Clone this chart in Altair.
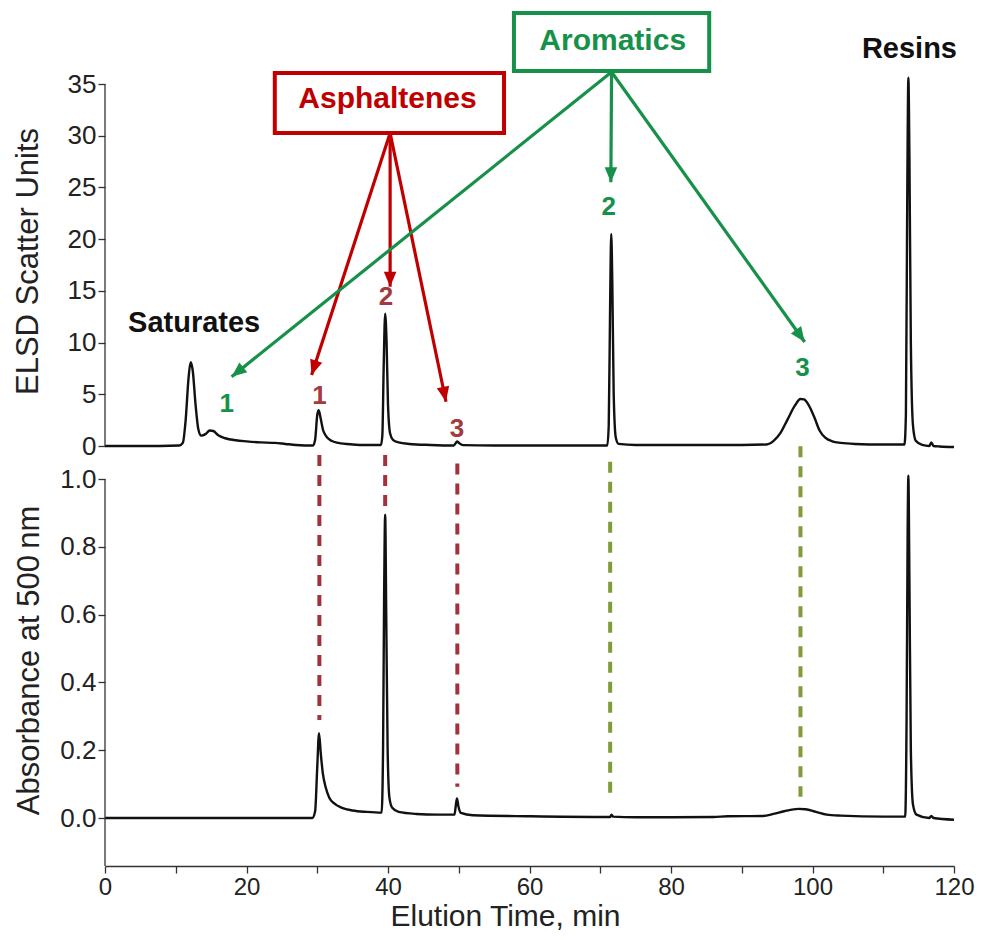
import altair as alt
import pandas as pd
import math

# ---------------- data ----------------
elsd_time = [0, 5, 10.5, 11.0, 11.4, 11.8, 12.1, 12.4, 12.8, 13.2, 13.6, 14.2, 14.8, 15.3, 16.0, 17.0,
             18.5, 20.0, 22.0, 24.0, 25.5, 27.0, 29.4, 29.7, 30.0, 30.2, 30.5, 30.8, 31.3, 32.0, 33.0,
             35.0, 37.0, 39.0, 39.2, 39.4, 39.6, 39.8, 40.0, 40.3, 40.7, 41.5, 43.0, 46.0, 49.3, 49.6,
             49.8, 50.1, 50.6, 55.0, 60.0, 65.0, 71.0, 71.2, 71.4, 71.55, 71.7, 71.9, 72.2, 72.6, 75.0,
             80.0, 85.0, 90.0, 93.5, 94.5, 95.5, 96.5, 97.5, 98.3, 98.8, 99.5, 100.3, 101.0, 101.8,
             102.8, 104.0, 106.0, 110.0, 113.0, 113.2, 113.4, 113.55, 113.7, 113.9, 114.2, 114.6,
             115.5, 116.5, 116.8, 117.1, 118.0, 120.0]
elsd_value = [0.0, 0.0, 0.05, 0.3, 2.5, 6.5, 8.1, 7.3, 4.0, 1.6, 1.0, 1.15, 1.5, 1.45, 1.05, 0.75,
              0.55, 0.45, 0.35, 0.3, 0.2, 0.1, 0.05, 0.6, 3.0, 3.45, 2.6, 1.6, 0.9, 0.5, 0.3,
              0.15, 0.1, 0.1, 1.0, 8.0, 12.8, 10.0, 4.0, 1.2, 0.6, 0.35, 0.2, 0.1, 0.05, 0.3,
              0.45, 0.25, 0.08, 0.05, 0.05, 0.05, 0.05, 2.0, 14.0, 20.5, 16.0, 5.0, 0.8, 0.2, 0.1,
              0.1, 0.1, 0.1, 0.15, 0.5, 1.3, 2.6, 3.9, 4.55, 4.5, 3.9, 2.7, 1.5, 0.8,
              0.45, 0.3, 0.2, 0.15, 0.15, 3.0, 25.0, 35.6, 28.0, 10.0, 2.0, 0.5,
              0.1, 0.0, 0.35, 0.0, -0.05, -0.1]

abs_time = [0, 29.3, 29.7, 30.0, 30.25, 30.5, 30.8, 31.2, 31.7, 32.4, 33.5, 35.0, 37.0, 39.1, 39.3,
            39.45, 39.6, 39.75, 39.95, 40.2, 40.6, 41.5, 44.0, 47.0, 49.4, 49.6, 49.75, 49.95, 50.3,
            52.0, 60.0, 70.0, 71.4, 71.6, 71.8, 75.0, 80.0, 86.0, 88.0, 93.0, 94.5, 96.0, 98.0, 99.0,
            100.5, 102.0, 104.0, 110.0, 113.1, 113.3, 113.45, 113.55, 113.7, 113.9, 114.2, 114.7,
            116.5, 116.8, 117.1, 120.0]
abs_value = [0.0, 0.0, 0.02, 0.15, 0.25, 0.19, 0.13, 0.09, 0.06, 0.043, 0.03, 0.022, 0.018, 0.016, 0.2,
             0.65, 0.895, 0.6, 0.2, 0.06, 0.03, 0.018, 0.012, 0.01, 0.01, 0.04, 0.058, 0.035, 0.015,
             0.008, 0.005, 0.003, 0.003, 0.01, 0.004, 0.002, 0.002, 0.003, 0.005, 0.006, 0.012, 0.02,
             0.027, 0.026, 0.018, 0.01, 0.007, 0.004, 0.004, 0.3, 0.85, 1.01, 0.7, 0.2, 0.04, 0.01,
             0.0, 0.006, 0.0, -0.005]

# annotation boxes (time range, ELSD range)
box_label = ["Asphaltenes", "Aromatics"]
box_x1 = [24.0, 57.8]
box_x2 = [56.4, 85.4]
box_y1 = [30.26, 36.26]
box_y2 = [36.06, 41.86]
box_text_x = [39.93, 71.76]
box_text_y = [33.55, 39.2]
box_color = ["#C00000", "#17914A"]

# arrows (start -> tip) in data units
arrow_x1 = [40.3, 40.3, 40.3, 71.6, 71.6, 71.6]
arrow_y1 = [30.26, 30.26, 30.26, 36.16, 36.16, 36.16]
arrow_x2 = [29.2, 40.3, 48.2, 17.9, 71.5, 98.9]
arrow_y2 = [6.86, 15.4, 4.28, 6.7, 25.5, 10.06]
arrow_color = ["#C00000", "#C00000", "#C00000", "#17914A", "#17914A", "#17914A"]

# peak number labels
num_text = ["1", "2", "3", "1", "2", "3"]
num_x = [30.3, 39.7, 49.76, 17.2, 71.2, 98.6]
num_y = [4.83, 14.4, 1.6, 4.1, 23.1, 7.5]
num_color = ["#A33A3F", "#A33A3F", "#A33A3F", "#17914A", "#17914A", "#17914A"]

# fraction names
frac_text = ["Saturates", "Resins"]
frac_x = [12.6, 113.7]
frac_y = [11.94, 38.4]

# dashed connectors in absorbance panel
dash_x = [30.3, 39.6, 49.8, 71.4, 98.3]
dash_top = [1.071, 1.071, 1.046, 1.051, 1.097]
dash_bottom = [0.289, 0.918, 0.092, 0.063, 0.063]
dash_color = ["#A3303A", "#A3303A", "#A3303A", "#7F9B3A", "#7F9B3A"]

x_ticks = list(range(0, 121, 10))
elsd_ticks = [0, 5, 10, 15, 20, 25, 30, 35]
abs_ticks = [0.0, 0.2, 0.4, 0.6, 0.8, 1.0]

# ---------------- layout ----------------
W = 849
H_TOP = 436
H_BOT = 420
ELSD_MAX = 42.155
ABS_DOM = [-0.1416, 1.0974]
FONT = "Liberation Sans"

xs = alt.Scale(domain=[0, 120], nice=False, zero=False)
ys_top = alt.Scale(domain=[0, ELSD_MAX], nice=False, zero=False)
ys_bot = alt.Scale(domain=ABS_DOM, nice=False, zero=False)

elsd_df = pd.DataFrame({"t": elsd_time, "v": elsd_value})
abs_df = pd.DataFrame({"t": abs_time, "v": abs_value})
box_df = pd.DataFrame({"label": box_label, "x1": box_x1, "x2": box_x2, "y1": box_y1, "y2": box_y2,
                       "tx": box_text_x, "ty": box_text_y, "color": box_color})

px_x = W / 120.0
px_y = H_TOP / ELSD_MAX
angles = []
for a, b, c, d in zip(arrow_x1, arrow_y1, arrow_x2, arrow_y2):
    dx = (c - a) * px_x
    dy = -(d - b) * px_y
    ang = math.degrees(math.atan2(dx, -dy)) % 360
    angles.append(ang)
arrow_df = pd.DataFrame({"x1": arrow_x1, "y1": arrow_y1, "x2": arrow_x2, "y2": arrow_y2,
                         "color": arrow_color, "angle": angles})
num_df = pd.DataFrame({"text": num_text, "x": num_x, "y": num_y, "color": num_color})
frac_df = pd.DataFrame({"text": frac_text, "x": frac_x, "y": frac_y})
dash_df = pd.DataFrame({"x": dash_x, "top": dash_top, "bottom": dash_bottom, "color": dash_color})

# ---------------- top panel ----------------
top_axis = alt.Axis(values=elsd_ticks, domain=False, grid=False, tickSize=7, tickWidth=1.3,
                    tickColor="#333", labelFont=FONT, labelFontSize=26, labelColor="#222",
                    labelPadding=2, title="ELSD Scatter Units", titleFont=FONT, titleFontSize=31,
                    titleFontWeight="normal", titleColor="#222", titleX=-77, titleY=251,
                    titleAngle=270, titleBaseline="middle", titleAlign="center")

top_axisline = alt.Chart(pd.DataFrame({"a": [0]})).mark_rule(color="#333", strokeWidth=1.3).encode(
    x=alt.value(0), y=alt.datum(0, scale=ys_top), y2=alt.datum(35))

elsd_line = alt.Chart(elsd_df).mark_line(color="#111", strokeWidth=2.4, interpolate="monotone").encode(
    x=alt.X("t:Q", scale=xs, axis=None),
    y=alt.Y("v:Q", scale=ys_top, axis=top_axis))

arrow_lines = alt.Chart(arrow_df).mark_rule(strokeWidth=3.2).encode(
    x=alt.X("x1:Q", scale=xs), y=alt.Y("y1:Q", scale=ys_top), x2="x2:Q", y2="y2:Q",
    color=alt.Color("color:N", scale=None))

arrow_heads = alt.Chart(arrow_df).mark_point(
    shape="M0,0 L0.42,1 L-0.42,1 Z", size=900, filled=True, opacity=1, strokeWidth=0).encode(
    x=alt.X("x2:Q", scale=xs), y=alt.Y("y2:Q", scale=ys_top),
    angle=alt.Angle("angle:Q", scale=None),
    color=alt.Color("color:N", scale=None))

boxes = alt.Chart(box_df).mark_rect(fill="white", strokeWidth=4).encode(
    x=alt.X("x1:Q", scale=xs), x2="x2:Q", y=alt.Y("y1:Q", scale=ys_top), y2="y2:Q",
    stroke=alt.Stroke("color:N", scale=None))

box_text = alt.Chart(box_df).mark_text(font=FONT, fontSize=30, fontWeight="bold",
                                       baseline="middle", align="center").encode(
    x=alt.X("tx:Q", scale=xs), y=alt.Y("ty:Q", scale=ys_top), text="label:N",
    color=alt.Color("color:N", scale=None))

num_labels = alt.Chart(num_df).mark_text(font=FONT, fontSize=26, fontWeight="bold",
                                         baseline="middle", align="center").encode(
    x=alt.X("x:Q", scale=xs), y=alt.Y("y:Q", scale=ys_top), text="text:N",
    color=alt.Color("color:N", scale=None))

frac_labels = alt.Chart(frac_df).mark_text(font=FONT, fontSize=29, fontWeight="bold",
                                           baseline="middle", align="center", color="#111").encode(
    x=alt.X("x:Q", scale=xs), y=alt.Y("y:Q", scale=ys_top), text="text:N")

top = alt.layer(elsd_line, top_axisline, arrow_lines, arrow_heads, boxes, box_text,
                num_labels, frac_labels).properties(width=W, height=H_TOP)

# ---------------- bottom panel ----------------
bot_yaxis = alt.Axis(values=abs_ticks, format=".1f", domain=False, grid=False, tickSize=7,
                     tickWidth=1.3, tickColor="#333", labelFont=FONT, labelFontSize=26,
                     labelColor="#222", labelPadding=2, title="Absorbance at 500\u2009nm",
                     titleFont=FONT, titleFontSize=31, titleFontWeight="normal", titleColor="#222",
                     titleX=-76, titleY=214, titleAngle=270, titleBaseline="middle",
                     titleAlign="center")
bot_xaxis = alt.Axis(values=x_ticks, labelExpr="datum.value % 20 == 0 ? datum.label : ''",
                     domain=True, domainColor="#333", domainWidth=1.3, grid=False, tickSize=7,
                     tickWidth=1.3, tickColor="#333", labelFont=FONT, labelFontSize=24,
                     labelColor="#222", labelPadding=2, labelFlush=False, labelOverlap=False,
                     title="Elution Time, min", titleFont=FONT, titleFontSize=30,
                     titleFontWeight="normal", titleColor="#222", titleX=400, titleY=59,
                     titleBaseline="alphabetic", titleAlign="center")

bot_axisline = alt.Chart(pd.DataFrame({"a": [0]})).mark_rule(color="#333", strokeWidth=1.3).encode(
    x=alt.value(0), y=alt.datum(1.0, scale=ys_bot), y2=alt.value(H_BOT))

abs_line = alt.Chart(abs_df).mark_line(color="#111", strokeWidth=2.4, interpolate="monotone").encode(
    x=alt.X("t:Q", scale=xs, axis=bot_xaxis),
    y=alt.Y("v:Q", scale=ys_bot, axis=bot_yaxis))

dashes = alt.Chart(dash_df).mark_rule(strokeWidth=4, strokeDash=[11, 9]).encode(
    x=alt.X("x:Q", scale=xs), y=alt.Y("top:Q", scale=ys_bot), y2="bottom:Q",
    color=alt.Color("color:N", scale=None))

bottom = alt.layer(abs_line, bot_axisline, dashes).properties(width=W, height=H_BOT)

chart = alt.vconcat(top, bottom, spacing=0, bounds="flush").properties(
    padding={"left": 4, "top": 2, "right": 0, "bottom": 0}
).configure(background="white").configure_view(strokeWidth=0, stroke="transparent")

chart.save("out.html", embed_options={"renderer": "svg", "actions": False})
